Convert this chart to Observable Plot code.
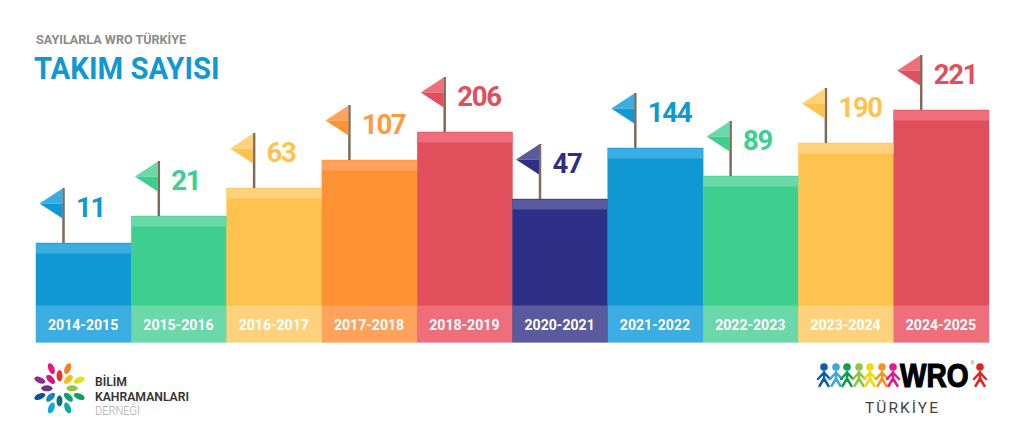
<!DOCTYPE html>
<html lang="tr"><head><meta charset="utf-8">
<script src="https://cdn.jsdelivr.net/npm/d3@7"></script>
<script src="https://cdn.jsdelivr.net/npm/@observablehq/plot@0.6"></script>
<style>
html,body{margin:0;padding:0;background:#fff;width:1024px;height:446px;overflow:hidden}
#page{position:relative;width:1024px;height:446px;font-family:Roboto,sans-serif}
#page svg{display:block}
.t{position:absolute;white-space:nowrap;line-height:1;transform-origin:left center}
.val text,text.val,.val{letter-spacing:-1.3px}
</style></head><body>
<div id="page">
<div class="t" style="left:36px;top:34px;font-size:12.6px;font-weight:700;color:#8b8b8b">SAYILARLA WRO TÜRKİYE</div>
<div class="t" style="left:34px;top:53px;font-size:31.5px;font-weight:700;color:#1098d3;transform:scaleX(.93)">TAKIM SAYISI</div>
<div id="chart"></div>
<div id="logos"></div>
</div>
<script>
const seasons = ["2014-2015","2015-2016","2016-2017","2017-2018","2018-2019","2020-2021","2021-2022","2022-2023","2023-2024","2024-2025"];
const teams = [11,21,63,107,206,47,144,89,190,221];
// Bar heights as drawn in the picture (the original is not proportional to its labels)
const drawnHeights = [99,126,154,182,210,143,194,166,199,232];
const darkColors = ["#1098d3","#3ccf8e","#fec34f","#ff9234","#e04f5b","#2e3087","#1098d3","#3ccf8e","#fec34f","#e04f5b"];
const lightColors = ["#3cade2","#6bd8a9","#fed27c","#ffa35c","#ef6e7b","#5a5a9e","#3cade2","#6bd8a9","#fed27c","#ef6e7b"];
const labelColors = ["#1098d3","#3ccf8e","#fec34f","#ff9a3e","#e04f5b","#2e3087","#1098d3","#3ccf8e","#fec34f","#e04f5b"];

const rows = seasons.map((season,i)=>({season,team:teams[i],h:drawnHeights[i],dark:darkColors[i],light:lightColors[i],label:labelColors[i]}));

const capHeight = 10, footerBand = 37, pole = 55, flagMid = 40, poleDx = -20.65;
const flagTop = {draw(c){c.moveTo(0,-15);c.lineTo(-23,0);c.lineTo(0,0);c.closePath();}};
const flagBottom = {draw(c){c.moveTo(0,15);c.lineTo(-23,0);c.lineTo(0,0);c.closePath();}};

const chart = Plot.plot({
  width:1024,height:446,
  marginLeft:36,marginRight:35,marginTop:0,marginBottom:104,
  x:{domain:seasons,padding:0,round:false,label:null},
  y:{domain:[0,342],axis:null},
  marks:[
    Plot.barY(rows,{x:"season",y:"h",fill:"dark",stroke:"dark",strokeWidth:.4}),
    Plot.tickY(rows,{x:"season",y:"h",stroke:"light",strokeWidth:capHeight,dy:capHeight/2}),
    Plot.tickY(rows,{x:"season",y:0,stroke:"light",strokeWidth:footerBand,dy:-footerBand/2}),
    Plot.ruleX(rows,{x:"season",y1:"h",y2:d=>d.h+pole,stroke:"#7f6b58",strokeWidth:2.5,dx:poleDx}),
    Plot.dot(rows,{x:"season",y:d=>d.h+flagMid,fill:"light",symbol:flagTop,r:10,dx:poleDx-1}),
    Plot.dot(rows,{x:"season",y:d=>d.h+flagMid,fill:"dark",symbol:flagBottom,r:10,dx:poleDx-1}),
    Plot.text(rows,{x:"season",y:d=>d.h+35.5,text:d=>String(d.team),fill:"label",textAnchor:"start",dx:poleDx+12.5,fontSize:27.5,fontWeight:700,fontFamily:"Roboto",className:"val"}),
    Plot.axisX({anchor:"bottom",tickSize:0,tickPadding:0,dy:-23,dx:-1,fill:"#fff",fontSize:14.1,fontWeight:700,fontFamily:"Roboto",label:null})
  ]
});
document.getElementById("chart").appendChild(chart);

// Footer logos
const logo = d3.select("#logos").append("svg").attr("width",1024).attr("height",446)
  .style("position","absolute").style("left",0).style("top",0);
const inner = ["#e5342a","#fdbb1a","#93c63d","#0d9b78","#0d6f7c","#0e86c9","#6b2e91","#d3177f"];
const outer = ["#f58220","#dde21f","#0fa05f","#0fa8a8","#12a8e0","#0c4f9c","#8b2c94","#e5177b"];
const cx=59.5, cy=388.3;
inner.forEach((c,i)=>{const a=i*45;
  logo.append("ellipse").attr("rx",3).attr("ry",5.6).attr("fill",c)
   .attr("transform",`translate(${cx},${cy}) rotate(${a}) translate(0,-12.6)`);});
outer.forEach((c,i)=>{const a=22.5+i*45;
  logo.append("ellipse").attr("rx",3).attr("ry",5.8).attr("fill",c)
   .attr("transform",`translate(${cx},${cy}) rotate(${a}) translate(0,-21.3)`);});
const lt=(x,y,s,o)=>{const e=logo.append("text").attr("x",x).attr("y",y).text(s);
  Object.entries(o).forEach(([k,v])=>e.attr(k,v));return e;};
const f={"font-family":"Roboto","font-weight":600,"font-size":12.2,fill:"#333"};
lt(95,386,"BİLİM",f);
lt(95,400.5,"KAHRAMANLARI",{...f,textLength:94,lengthAdjust:"spacingAndGlyphs"});
lt(95,414.5,"DERNEĞİ",{...f,"font-weight":300,fill:"#aaa",textLength:45,lengthAdjust:"spacingAndGlyphs"});
const kids=[[824,"#0c5fa5"],[836,"#3aa9de"],[847,"#0f9e50"],[859,"#8cc63f"],[870,"#f5d90a"],[882,"#f7931e"],[893,"#e5178a"],[980,"#e52421"]];
kids.forEach(([x,c])=>{
  const g=logo.append("g").attr("stroke",c).attr("fill","none").attr("stroke-width",2.5).attr("stroke-linecap","round");
  logo.append("circle").attr("cx",x).attr("cy",367).attr("r",3.8).attr("fill",c);
  g.append("path").attr("d",`M${x-6} 379L${x} 372.5L${x+6} 379M${x} 372L${x} 379M${x-4.5} 386L${x} 378.5L${x+4.5} 386`);
});
lt(0,0,"WRO",{"font-family":"Liberation Sans","font-weight":700,"font-size":33,fill:"#000",stroke:"#000","stroke-width":1.2,transform:"translate(900,387) scale(.85,1)"});
lt(970.5,365,"®",{"font-family":"Roboto","font-size":5,fill:"#888"});
lt(865,413,"TÜRKİYE",{"font-family":"Roboto","font-weight":400,"font-size":15.5,fill:"#444",textLength:73,lengthAdjust:"spacing"});
</script>
</body></html>
